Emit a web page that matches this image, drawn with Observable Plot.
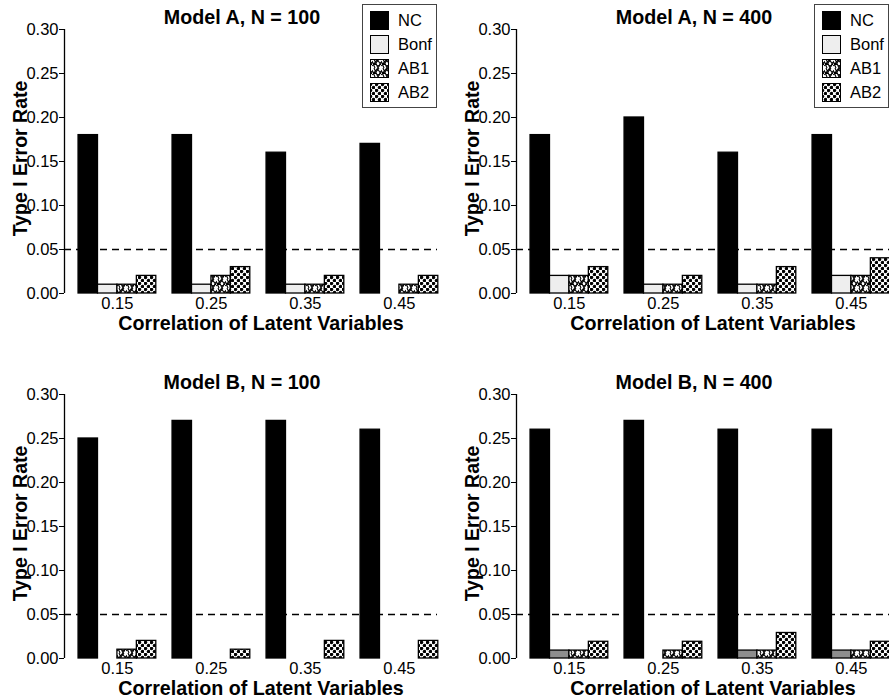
<!DOCTYPE html>
<html>
<head>
<meta charset="utf-8">
<script src="https://cdn.jsdelivr.net/npm/d3@7"></script>
<script src="https://cdn.jsdelivr.net/npm/@observablehq/plot@0.6"></script>
<style>
  html, body { margin: 0; padding: 0; background: #fff; }
  #wrap { position: relative; width: 889px; height: 698px; overflow: hidden; background: #fff;
          font-family: "Liberation Sans", Arial, Helvetica, sans-serif; }
  .panel { position: absolute; width: 452px; height: 340px; }
  .legend { position: absolute; left: 362px; top: 4px; width: 73px; height: 102px;
            border: 1.3px solid #444; background: #fff; }
</style>
</head>
<body>
<svg width="0" height="0" style="position:absolute">
  <defs>
    <pattern id="pat-ab1" width="9" height="9" patternUnits="userSpaceOnUse">
      <rect width="9" height="9" fill="#fff"/>
      <path d="M0,2 L3,9 M2,0 L6,9 M5,0 L9,6 M0,7 L5,1 M6,9 L9,3 M1,4 L8,7 M7,0 L4,4" stroke="#000" stroke-width="1.1" fill="none"/>
    </pattern>
    <pattern id="pat-ab2" width="6" height="6" patternUnits="userSpaceOnUse">
      <rect width="6" height="6" fill="#fff"/>
      <circle cx="1.5" cy="1.5" r="1.75" fill="#000"/>
      <circle cx="4.5" cy="4.5" r="1.75" fill="#000"/>
    </pattern>
  </defs>
</svg>
<div id="wrap"></div>
<script>
// ---- data ----
const correlations = ["0.15", "0.25", "0.35", "0.45"];
const methods = ["NC", "Bonf", "AB1", "AB2"];
const yTicks = [0, 0.05, 0.10, 0.15, 0.20, 0.25, 0.30];
const nominalAlpha = 0.05;

const titles = ["Model A, N = 100", "Model A, N = 400", "Model B, N = 100", "Model B, N = 400"];
const xTitle = "Correlation of Latent Variables";
const yTitle = "Type I Error Rate";

// values per method, across correlations 0.15, 0.25, 0.35, 0.45
const modelA100_NC   = [0.18, 0.18, 0.16, 0.17];
const modelA100_Bonf = [0.01, 0.01, 0.01, 0.00];
const modelA100_AB1  = [0.01, 0.02, 0.01, 0.01];
const modelA100_AB2  = [0.02, 0.03, 0.02, 0.02];

const modelA400_NC   = [0.18, 0.20, 0.16, 0.18];
const modelA400_Bonf = [0.02, 0.01, 0.01, 0.02];
const modelA400_AB1  = [0.02, 0.01, 0.01, 0.02];
const modelA400_AB2  = [0.03, 0.02, 0.03, 0.04];

const modelB100_NC   = [0.25, 0.27, 0.27, 0.26];
const modelB100_Bonf = [0.00, 0.00, 0.00, 0.00];
const modelB100_AB1  = [0.01, 0.00, 0.00, 0.00];
const modelB100_AB2  = [0.02, 0.01, 0.02, 0.02];

const modelB400_NC   = [0.26, 0.27, 0.26, 0.26];
const modelB400_Bonf = [0.009, 0.00, 0.009, 0.009];
const modelB400_AB1  = [0.009, 0.009, 0.009, 0.009];
const modelB400_AB2  = [0.019, 0.019, 0.029, 0.019];

const fillsLight = ["#000000", "#eeeeee", "url(#pat-ab1)", "url(#pat-ab2)"];
const fillsGray  = ["#000000", "#8e8e8e", "url(#pat-ab1)", "url(#pat-ab2)"];

const panels = [
  {title: titles[0], series: [modelA100_NC, modelA100_Bonf, modelA100_AB1, modelA100_AB2], fills: fillsLight, legend: true},
  {title: titles[1], series: [modelA400_NC, modelA400_Bonf, modelA400_AB1, modelA400_AB2], fills: fillsLight, legend: true},
  {title: titles[2], series: [modelB100_NC, modelB100_Bonf, modelB100_AB1, modelB100_AB2], fills: fillsLight, legend: false},
  {title: titles[3], series: [modelB400_NC, modelB400_Bonf, modelB400_AB1, modelB400_AB2], fills: fillsGray, legend: false}
];

// ---- layout ----
const groupWidth = 0.827;            // fraction of one group step used by the 4 bars
const xDomain = [-0.563, 3.405];
const W = 452, H = 340;
const offsets = [[0, 0], [452, 0], [0, 365], [452, 365]];
const FONT = "'Liberation Sans', Arial, Helvetica, sans-serif";

const wrap = document.getElementById("wrap");

panels.forEach((p, k) => {
  const rows = [];
  correlations.forEach((c, gi) => {
    methods.forEach((m, si) => {
      rows.push({gi, si, corr: c, method: m, value: p.series[si][gi]});
    });
  });
  const bw = groupWidth / methods.length;

  const chart = Plot.plot({
    width: W,
    height: H,
    marginLeft: 64,
    marginRight: 15,
    marginTop: 29,
    marginBottom: 47,
    style: {fontFamily: FONT, fontSize: "16.5px", color: "#000", background: "transparent", overflow: "visible"},
    x: {type: "linear", domain: xDomain},
    y: {domain: [0, 0.30]},
    color: {type: "ordinal", domain: methods, range: p.fills},
    marks: [
      Plot.ruleY([nominalAlpha], {stroke: "#000", strokeWidth: 1.3, strokeDasharray: "7,5"}),
      Plot.rect(rows, {
        x1: d => d.gi - groupWidth / 2 + d.si * bw,
        x2: d => d.gi - groupWidth / 2 + (d.si + 1) * bw,
        y1: 0,
        y2: "value",
        fill: "method",
        stroke: "#000",
        strokeWidth: 1.3
      }),
      Plot.ruleX([xDomain[0]], {stroke: "#000", strokeWidth: 1.3}),
      Plot.axisY({ticks: yTicks, tickFormat: d3.format(".2f"), tickSize: 5, tickPadding: 1, label: null, fontSize: 16.5}),
      Plot.axisX({ticks: d3.range(correlations.length), tickFormat: i => correlations[i], tickSize: 0, tickPadding: 4, label: null, fontSize: 16.5}),
      Plot.text([p.title], {text: d => d, frameAnchor: "top", dx: -9, dy: -11.5, fontSize: 19.7, fontWeight: "bold", lineAnchor: "middle"}),
      Plot.text([xTitle], {text: d => d, frameAnchor: "bottom", dx: 10, dy: 30.5, fontSize: 19.7, fontWeight: "bold", lineAnchor: "middle"}),
      Plot.text([yTitle], {text: d => d, frameAnchor: "left", textAnchor: "middle", dx: -44, dy: -3, rotate: -90, fontSize: 19.5, fontWeight: "bold", lineAnchor: "middle"})
    ]
  });

  const div = document.createElement("div");
  div.className = "panel";
  div.style.left = offsets[k][0] + "px";
  div.style.top = offsets[k][1] + "px";
  div.appendChild(chart);

  if (p.legend) {
    const leg = document.createElement("div");
    leg.className = "legend";
    const svg = d3.create("svg").attr("width", 73).attr("height", 102)
      .style("font-family", FONT).style("display", "block");
    methods.forEach((m, i) => {
      svg.append("rect").attr("x", 7.5).attr("y", 6.5 + i * 24).attr("width", 18).attr("height", 18)
        .attr("fill", p.fills[i]).attr("stroke", "#000").attr("stroke-width", 1);
      svg.append("text").attr("x", 35).attr("y", 15.5 + i * 24).attr("dy", "0.35em")
        .attr("font-size", 16.5).text(m);
    });
    leg.appendChild(svg.node());
    div.appendChild(leg);
  }
  wrap.appendChild(div);
});
</script>
</body>
</html>
